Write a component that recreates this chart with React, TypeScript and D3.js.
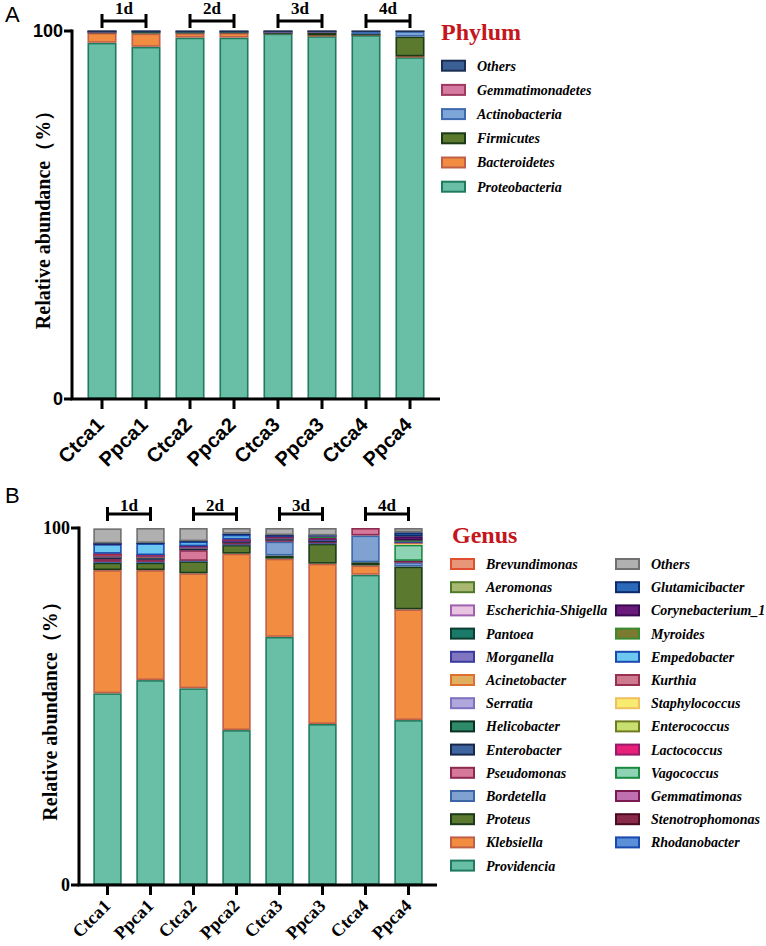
import React from 'react';
import * as d3 from 'd3';

const samples = ['Ctca1', 'Ppca1', 'Ctca2', 'Ppca2', 'Ctca3', 'Ppca3', 'Ctca4', 'Ppca4'];
const dayLabels = ['1d', '2d', '3d', '4d'];
const yTicks = [0, 100];

// Phylum (stack order bottom -> top)
const proteobacteria = [96.8, 95.7, 98.2, 98.2, 99.3, 98.6, 98.9, 92.9];
const bacteroidetes = [2.7, 3.6, 1.2, 1.3, 0.1, 0.2, 0.1, 0.2];
const firmicutes = [0.2, 0.5, 0.3, 0.2, 0.1, 0.8, 0.1, 5.4];
const actinobacteria = [0.1, 0.1, 0.2, 0.2, 0.3, 0.2, 0.8, 1.4];
const gemmatimonadetes = [0.1, 0.0, 0.0, 0.0, 0.1, 0.1, 0.0, 0.0];
const phylumOthers = [0.1, 0.1, 0.1, 0.1, 0.1, 0.1, 0.1, 0.1];

// Genus
const providencia = [53.7, 57.4, 55.1, 43.4, 69.5, 45.1, 86.9, 46.2];
const klebsiella = [34.5, 30.8, 32.2, 49.4, 21.9, 44.9, 2.6, 31.0];
const proteus = [2.1, 2.1, 3.4, 2.5, 0.9, 5.6, 0.9, 12.0];
const bordetella = [0.2, 0.2, 0.1, 0.1, 3.9, 0.2, 7.5, 1.2];
const pseudomonas = [0.8, 0.6, 3.0, 0.5, 0.3, 0.3, 2.1, 0.2];
const enterobacter = [0.4, 0.4, 0.4, 0.2, 0.4, 0.3, 0, 0];
const helicobacter = [0.2, 0.2, 0.2, 0.1, 0.1, 0.1, 0, 0];
const serratia = [0.1, 0.1, 0.1, 0.1, 0.1, 0.1, 0, 0];
const acinetobacter = [0.1, 0.1, 0.1, 0, 0.1, 0, 0, 0];
const morganella = [0.2, 0.2, 0.1, 0.1, 0.1, 0.1, 0, 0];
const pantoea = [0, 0, 0, 0, 0, 0, 0, 0];
const escherichia = [0.1, 0.1, 0.1, 0, 0, 0, 0, 0];
const aeromonas = [0, 0, 0, 0, 0, 0, 0, 0];
const brevundimonas = [0.1, 0, 0, 0, 0, 0, 0, 0];
const rhodanobacter = [0, 0, 0, 0, 0, 0, 0, 0];
const stenotrophomonas = [0, 0, 0, 0, 0, 0, 0, 0];
const gemmatimonas = [0.1, 0.1, 0.1, 0.2, 0.3, 0.5, 0, 0.2];
const vagococcus = [0, 0, 0, 0, 0, 0.5, 0, 4.5];
const lactococcus = [0, 0, 0, 0, 0, 0, 0, 0];
const enterococcus = [0, 0, 0, 0, 0, 0, 0, 0];
const staphylococcus = [0, 0, 0, 0, 0, 0, 0, 0.5];
const kurthia = [0.2, 0.1, 0, 0.2, 0.1, 0.1, 0, 0.1];
const empedobacter = [2.7, 3.3, 1.3, 1.3, 0.1, 0.1, 0, 0.4];
const myroides = [0, 0, 0, 0, 0, 0, 0, 0.2];
const corynebacterium = [0.1, 0, 0, 0, 0, 0, 0, 1.2];
const glutamicibacter = [0.1, 0.1, 0.1, 0.3, 0.2, 0, 0, 1.1];
const genusOthers = [4.2, 4.2, 3.7, 1.6, 2.0, 2.1, 0, 1.2];

type Series = { name: string; values: number[]; fill: string; stroke: string };

const phylumSeries: Series[] = [
  { name: 'Proteobacteria', values: proteobacteria, fill: '#68bfa6', stroke: '#1f7a5e' },
  { name: 'Bacteroidetes', values: bacteroidetes, fill: '#f28c40', stroke: '#c0604a' },
  { name: 'Firmicutes', values: firmicutes, fill: '#5b7a2e', stroke: '#1c3a15' },
  { name: 'Actinobacteria', values: actinobacteria, fill: '#7fa6d9', stroke: '#3e6bb0' },
  { name: 'Gemmatimonadetes', values: gemmatimonadetes, fill: '#d57aa0', stroke: '#a03a60' },
  { name: 'Others', values: phylumOthers, fill: '#3c5f95', stroke: '#1b2f55' },
];

const genusLeft: Series[] = [
  { name: 'Brevundimonas', values: brevundimonas, fill: '#e8967a', stroke: '#e05030' },
  { name: 'Aeromonas', values: aeromonas, fill: '#a8b870', stroke: '#4f7a2a' },
  { name: 'Escherichia-Shigella', values: escherichia, fill: '#e8c4e0', stroke: '#a060b0' },
  { name: 'Pantoea', values: pantoea, fill: '#1a7a6a', stroke: '#0d3d30' },
  { name: 'Morganella', values: morganella, fill: '#8075c0', stroke: '#3c3ca0' },
  { name: 'Acinetobacter', values: acinetobacter, fill: '#e0b060', stroke: '#e07030' },
  { name: 'Serratia', values: serratia, fill: '#b0a8dc', stroke: '#8070c0' },
  { name: 'Helicobacter', values: helicobacter, fill: '#2e8a6a', stroke: '#0a3020' },
  { name: 'Enterobacter', values: enterobacter, fill: '#3f65a0', stroke: '#18284a' },
  { name: 'Pseudomonas', values: pseudomonas, fill: '#d5789a', stroke: '#8e2a50' },
  { name: 'Bordetella', values: bordetella, fill: '#80a2d2', stroke: '#3c66a8' },
  { name: 'Proteus', values: proteus, fill: '#5b7a30', stroke: '#1a3a18' },
  { name: 'Klebsiella', values: klebsiella, fill: '#f28c40', stroke: '#c06048' },
  { name: 'Providencia', values: providencia, fill: '#68bfa6', stroke: '#1f7a5e' },
];

const genusRight: Series[] = [
  { name: 'Others', values: genusOthers, fill: '#b0b0b0', stroke: '#707070' },
  { name: 'Glutamicibacter', values: glutamicibacter, fill: '#2a6ab8', stroke: '#0d2a6a' },
  { name: 'Corynebacterium_1', values: corynebacterium, fill: '#6a1a7a', stroke: '#3a0a50' },
  { name: 'Myroides', values: myroides, fill: '#7a7a30', stroke: '#3a8a30' },
  { name: 'Empedobacter', values: empedobacter, fill: '#6cc8f0', stroke: '#1a4ab0' },
  { name: 'Kurthia', values: kurthia, fill: '#d07a90', stroke: '#9a3050' },
  { name: 'Staphylococcus', values: staphylococcus, fill: '#f8ec70', stroke: '#f0c060' },
  { name: 'Enterococcus', values: enterococcus, fill: '#c8e070', stroke: '#707a20' },
  { name: 'Lactococcus', values: lactococcus, fill: '#e8207a', stroke: '#9a1a6a' },
  { name: 'Vagococcus', values: vagococcus, fill: '#8ed4b4', stroke: '#1a8a40' },
  { name: 'Gemmatimonas', values: gemmatimonas, fill: '#c070b0', stroke: '#7a1a50' },
  { name: 'Stenotrophomonas', values: stenotrophomonas, fill: '#8a2a4a', stroke: '#4a0a20' },
  { name: 'Rhodanobacter', values: rhodanobacter, fill: '#5a90d8', stroke: '#1a4ab0' },
];

const genusSeries: Series[] = [...genusLeft].reverse().concat([...genusRight].reverse());

const SERIF = '"Liberation Serif", "Times New Roman", serif';
const SANS = '"Liberation Sans", Arial, sans-serif';

type ChartProps = {
  series: Series[];
  xRange: [number, number];
  yRange: [number, number];
  axisX: number;
  axisEnd: number;
  tickFont: string;
  labelSize: number;
  labelDx: number;
  labelDy: number;
  bracketY: number;
  bracketCap: number;
  bracketTextY: number;
};

function StackedChart(p: ChartProps) {
  const x = d3.scaleBand<string>().domain(samples).range(p.xRange).paddingInner(0.34).paddingOuter(0.17);
  const y = d3.scaleLinear().domain([0, 100]).range(p.yRange);
  const table = samples.map((s, i) => {
    const row: any = { sample: s };
    p.series.forEach((se) => (row[se.name] = se.values[i]));
    return row;
  });
  const stack = d3.stack<any>().keys(p.series.map((s) => s.name))(table);
  const y0 = y(0);
  const y100 = y(100);
  const sw = 1.6;
  return (
    <g>
      {stack.map((layer, li) => (
        <g key={layer.key}>
          {layer.map((d, i) => {
            const v = d[1] - d[0];
            if (v <= 0) return null;
            const top = y(d[1]);
            const h = y(d[0]) - top;
            const xs = x(samples[i])!;
            return (
              <rect
                key={i}
                x={xs + sw / 2}
                y={top + Math.min(sw / 2, h / 2)}
                width={x.bandwidth() - sw}
                height={Math.max(h - sw, 0.01)}
                fill={p.series[li].fill}
                stroke={p.series[li].stroke}
                strokeWidth={sw}
              />
            );
          })}
        </g>
      ))}
      {/* axes */}
      <line x1={p.axisX} x2={p.axisX} y1={y100 - 1.5} y2={y0} stroke="#000" strokeWidth={3} />
      <line x1={p.axisX - 1.5} x2={p.axisEnd} y1={y0} y2={y0} stroke="#000" strokeWidth={3} />
      {yTicks.map((t) => (
        <g key={t}>
          <line x1={p.axisX - 8} x2={p.axisX} y1={y(t)} y2={y(t)} stroke="#000" strokeWidth={3} />
          <text
            x={p.axisX - 9}
            y={y(t)}
            dy="0.36em"
            textAnchor="end"
            fontFamily={p.tickFont}
            fontWeight="bold"
            fontSize={18}
          >
            {t}
          </text>
        </g>
      ))}
      {samples.map((s) => {
        const cx = x(s)! + x.bandwidth() / 2;
        return (
          <g key={s}>
            <line x1={cx} x2={cx} y1={y0} y2={y0 + 10} stroke="#000" strokeWidth={3} />
            <text
              transform={`translate(${cx + p.labelDx},${y0 + p.labelDy}) rotate(-45)`}
              textAnchor="end"
              fontFamily={p.tickFont}
              fontWeight="bold"
              fontSize={p.labelSize}
            >
              {s}
            </text>
          </g>
        );
      })}
      {dayLabels.map((lab, k) => {
        const a = x(samples[2 * k])! + x.bandwidth() / 2;
        const b = x(samples[2 * k + 1])! + x.bandwidth() / 2;
        return (
          <g key={lab}>
            <line x1={a} x2={b} y1={p.bracketY} y2={p.bracketY} stroke="#000" strokeWidth={3} />
            <line x1={a} x2={a} y1={p.bracketY - p.bracketCap} y2={p.bracketY + p.bracketCap} stroke="#000" strokeWidth={3} />
            <line x1={b} x2={b} y1={p.bracketY - p.bracketCap} y2={p.bracketY + p.bracketCap} stroke="#000" strokeWidth={3} />
            <text x={(a + b) / 2} y={p.bracketTextY} textAnchor="middle" fontFamily={SERIF} fontWeight="bold" fontSize={17}>
              {lab}
            </text>
          </g>
        );
      })}
      <text
        transform={`translate(${p.axisX - 22},${(y0 + y100) / 2}) rotate(-90)`}
        textAnchor="middle"
        fontFamily={SERIF}
        fontWeight="bold"
        fontSize={20}
      >
        Relative abundance（%）
      </text>
    </g>
  );
}

function LegendItem({ s, x, y }: { s: Series; x: number; y: number }) {
  return (
    <g>
      <rect x={x + 1} y={y - 5} width={23} height={10} fill={s.fill} stroke={s.stroke} strokeWidth={2} />
      <text x={x + 36} y={y} dy="0.35em" fontFamily={SERIF} fontStyle="italic" fontWeight="bold" fontSize={14}>
        {s.name}
      </text>
    </g>
  );
}

export default function App() {
  const phylumLegend = [...phylumSeries].reverse();
  return (
    <svg width={766} height={946} style={{ position: 'absolute', left: 0, top: 0, background: '#fff' }}>
      <rect width={766} height={946} fill="#fff" />
      <text x={5} y={22} fontFamily={SANS} fontSize={22}>A</text>
      <text x={5} y={503} fontFamily={SANS} fontSize={22}>B</text>
      <StackedChart
        series={phylumSeries}
        xRange={[80, 432]}
        yRange={[399, 31]}
        axisX={72}
        axisEnd={440}
        tickFont={SANS}
        labelSize={20}
        labelDx={3}
        labelDy={27}
        bracketY={21}
        bracketCap={7}
        bracketTextY={14}
      />
      <StackedChart
        series={genusSeries}
        xRange={[86, 430]}
        yRange={[885, 528]}
        axisX={79}
        axisEnd={437}
        tickFont={SERIF}
        labelSize={18}
        labelDx={4}
        labelDy={22}
        bracketY={514}
        bracketCap={7}
        bracketTextY={511}
      />
      <text x={441} y={40} fill="#c4161c" fontFamily={SERIF} fontWeight="bold" fontSize={24}>Phylum</text>
      {phylumLegend.map((s, i) => (
        <LegendItem key={s.name} s={s} x={441} y={65.7 + i * 24.2} />
      ))}
      <text x={452} y={543} fill="#c4161c" fontFamily={SERIF} fontWeight="bold" fontSize={24}>Genus</text>
      {genusLeft.map((s, i) => (
        <LegendItem key={s.name} s={s} x={450} y={564 + i * 23.2} />
      ))}
      {genusRight.map((s, i) => (
        <LegendItem key={s.name} s={s} x={615} y={564 + i * 23.2} />
      ))}
    </svg>
  );
}
